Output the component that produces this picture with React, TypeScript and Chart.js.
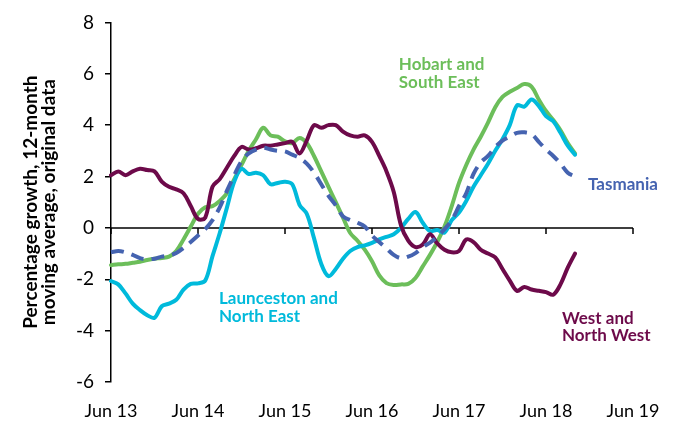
import React, { useEffect, useRef } from 'react';
import { Chart, registerables } from 'chart.js';

Chart.register(...registerables);

const MONTHS = ['Jan', 'Feb', 'Mar', 'Apr', 'May', 'Jun', 'Jul', 'Aug', 'Sep', 'Oct', 'Nov', 'Dec'];
// Monthly categories, Jun 13 .. Jun 19
const categories: string[] = [];
for (let i = 0; i <= 72; i++) {
  const k = 5 + i;
  categories.push(MONTHS[k % 12] + ' ' + (13 + Math.floor(k / 12)));
}

const yTitle = ['Percentage growth, 12-month', 'moving average, original data'];

const tasmania = [
  -0.95, -0.9, -0.95, -1.05, -1.18, -1.22, -1.2, -1.12, -1.08, -0.98, -0.78, -0.55, -0.3,
  -0.05, 0.3, 0.8, 1.45, 2.05, 2.6, 2.9, 3.05, 3.12, 3.05, 3.0, 2.98,
  2.85, 2.72, 2.5, 2.15, 1.7, 1.25, 0.88, 0.45, 0.3, 0.2, 0.05, -0.3,
  -0.55, -0.8, -1.05, -1.18, -1.12, -0.98, -0.75, -0.57, -0.35, -0.05, 0.3, 0.85,
  1.35, 2.1, 2.55, 2.8, 3.15, 3.4, 3.55, 3.7, 3.72, 3.65, 3.35, 3.05,
  2.8, 2.5, 2.15, 2.0,
];

const westNorthWest = [
  2.05, 2.2, 2.05, 2.2, 2.3, 2.25, 2.2, 1.8, 1.6, 1.5, 1.35, 0.85, 0.35,
  0.4, 1.6, 1.9, 2.35, 2.8, 3.15, 3.05, 3.1, 3.2, 3.2, 3.25, 3.3,
  3.35, 2.9, 3.4, 4.0, 3.9, 4.0, 4.0, 3.75, 3.6, 3.55, 3.6, 3.35,
  2.8, 2.2, 1.4, 0.1, -0.5, -0.75, -0.65, -0.25, -0.6, -0.85, -0.95, -0.9,
  -0.45, -0.55, -0.85, -1.0, -1.15, -1.6, -2.05, -2.45, -2.3, -2.4, -2.45, -2.5,
  -2.6, -2.2, -1.55, -1.0,
];

const launcestonNorthEast = [
  -2.07, -2.2, -2.55, -2.95, -3.2, -3.4, -3.5, -3.05, -2.95, -2.8, -2.4, -2.18, -2.16,
  -2.05, -1.1, -0.2, 0.8, 1.8, 2.3, 2.1, 2.15, 2.05, 1.7, 1.75, 1.8,
  1.7, 0.9, 0.55, -0.4, -1.4, -1.88, -1.6, -1.2, -0.9, -0.75, -0.68, -0.58,
  -0.45, -0.35, -0.25, 0.0, 0.35, 0.62, 0.2, -0.12, -0.08, -0.18, 0.3, 0.6,
  1.05, 1.6, 2.05, 2.5, 3.0, 3.45, 4.0, 4.77, 4.72, 5.0, 4.75, 4.35,
  4.15, 3.7, 3.2, 2.85,
];

const hobartSouthEast = [
  -1.45, -1.42, -1.4, -1.36, -1.32, -1.25, -1.2, -1.17, -1.12, -0.9, -0.45, 0.05, 0.55,
  0.8, 0.85, 1.05, 1.35, 1.9, 2.45, 3.0, 3.45, 3.9, 3.6, 3.55, 3.37,
  3.3, 3.5, 3.3, 2.8, 2.2, 1.6, 1.0, 0.4, -0.2, -0.5, -0.85, -1.3,
  -1.85, -2.15, -2.22, -2.2, -2.18, -1.95, -1.5, -1.05, -0.55, 0.05, 0.85, 1.75,
  2.45, 3.05, 3.55, 4.1, 4.7, 5.1, 5.3, 5.45, 5.6, 5.5, 5.0, 4.55,
  4.2, 3.8, 3.3, 2.9,
];

const COLORS = {
  tas: '#4563B0',
  west: '#6D0A4A',
  laun: '#00BADB',
  hob: '#6CBE5A',
};

// Annotation text anchored in data coordinates (category index, value)
const annotations = [
  { lines: ['Hobart and', 'South East'], at: [39.7, 6.36], color: COLORS.hob },
  { lines: ['Tasmania'], at: [65.8, 1.67], color: COLORS.tas },
  { lines: ['Launceston and', 'North East'], at: [14.9, -2.76], color: COLORS.laun },
  { lines: ['West and', 'North West'], at: [62.2, -3.52], color: COLORS.west },
];

const FONT = 'Lato, "Open Sans", "DejaVu Sans", sans-serif';

const overlay = {
  id: 'overlay',
  beforeDatasetsDraw(chart: any) {
    const { ctx, scales, chartArea } = chart;
    const x = scales.x;
    const y = scales.y;
    const y0 = y.getPixelForValue(0);
    ctx.save();
    ctx.strokeStyle = '#000';
    ctx.lineWidth = 1.5;
    ctx.beginPath();
    ctx.moveTo(chartArea.left, y0);
    ctx.lineTo(chartArea.right, y0);
    categories.forEach((c, i) => {
      if (c.startsWith('Jun')) {
        const px = x.getPixelForValue(i);
        ctx.moveTo(px, y0);
        ctx.lineTo(px, y0 + 6);
      }
    });
    ctx.stroke();
    ctx.restore();
  },
  afterDraw(chart: any) {
    const { ctx, scales, chartArea } = chart;
    const x = scales.x;
    const y = scales.y;
    ctx.save();
    // y-axis title
    ctx.fillStyle = '#000';
    ctx.font = 'bold 19px ' + FONT;
    ctx.textAlign = 'center';
    ctx.textBaseline = 'middle';
    const cy = (chartArea.top + chartArea.bottom) / 2;
    yTitle.forEach((t, i) => {
      ctx.save();
      ctx.translate(31 + i * 18, cy);
      ctx.rotate(-Math.PI / 2);
      ctx.fillText(t, 0, 0);
      ctx.restore();
    });
    // annotations
    ctx.font = 'bold 17px ' + FONT;
    ctx.textAlign = 'left';
    annotations.forEach((a) => {
      ctx.fillStyle = a.color;
      const px = x.getPixelForValue(a.at[0]);
      const py = y.getPixelForValue(a.at[1]);
      a.lines.forEach((l, i) => ctx.fillText(l, px, py + i * 17.5));
    });
    ctx.restore();
  },
};

export default function App() {
  const ref = useRef<HTMLCanvasElement | null>(null);
  useEffect(() => {
    if (!ref.current) return;
    const line = (label: string, data: number[], color: string, dashed: boolean, order: number) => ({
      label,
      data,
      borderColor: color,
      backgroundColor: color,
      borderWidth: 4,
      borderDash: dashed ? [13, 8] : [],
      borderCapStyle: dashed ? 'butt' : 'round',
      borderJoinStyle: 'round',
      pointRadius: 0,
      tension: 0.35,
      fill: false,
      order,
    });
    const chart = new Chart(ref.current, {
      type: 'line',
      data: {
        labels: categories,
        datasets: [
          line('Tasmania', tasmania, COLORS.tas, true, 0),
          line('West and North West', westNorthWest, COLORS.west, false, 1),
          line('Launceston and North East', launcestonNorthEast, COLORS.laun, false, 2),
          line('Hobart and South East', hobartSouthEast, COLORS.hob, false, 3),
        ] as any,
      },
      options: {
        animation: false,
        responsive: false,
        maintainAspectRatio: false,
        layout: { padding: { top: 15, right: 48, left: 0, bottom: 0 } },
        plugins: { legend: { display: false }, tooltip: { enabled: false } },
        scales: {
          x: {
            type: 'category',
            offset: false,
            grid: { display: false, drawTicks: false },
            border: { display: false },
            ticks: {
              autoSkip: false,
              maxRotation: 0,
              minRotation: 0,
              padding: 18,
              color: '#000',
              font: { family: FONT, size: 18 },
              callback: (_v: any, i: number) => (categories[i].startsWith('Jun') ? categories[i] : ''),
            },
            afterFit: (s: any) => {
              s.height = 42;
            },
          },
          y: {
            min: -6,
            max: 8,
            ticks: {
              stepSize: 2,
              padding: 11,
              color: '#000',
              font: { family: FONT, size: 19 },
            },
            grid: { drawOnChartArea: false, drawTicks: true, tickLength: 6, color: '#000', lineWidth: 1.5 },
            border: { display: true, color: '#000', width: 1.5 },
            afterFit: (s: any) => {
              s.width = 111;
            },
          },
        },
      },
      plugins: [overlay],
    } as any);
    return () => chart.destroy();
  }, []);
  return (
    <div style={{ position: 'absolute', left: 0, top: 0, width: 681, height: 424, background: '#fff' }}>
      <canvas ref={ref} width={681} height={424} style={{ width: 681, height: 424 }} />
    </div>
  );
}
